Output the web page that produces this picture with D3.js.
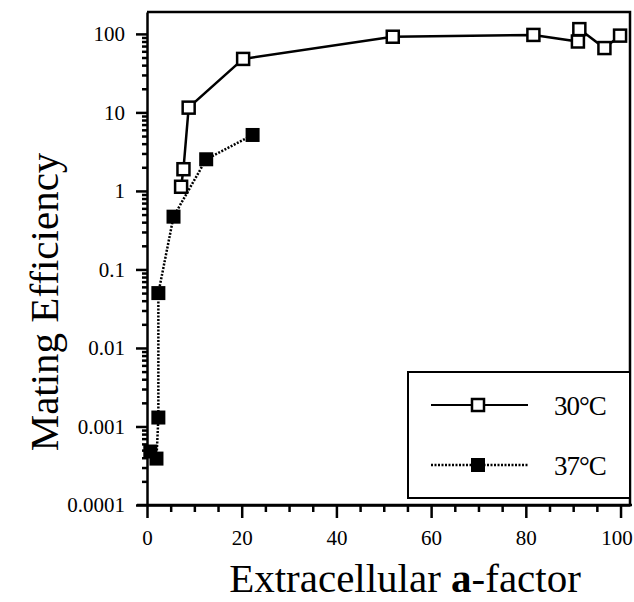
<!DOCTYPE html>
<html>
<head>
<meta charset="utf-8">
<script src="https://cdn.jsdelivr.net/npm/d3@7"></script>
<style>
  html, body { margin: 0; padding: 0; background: #fff; }
  svg { display: block; }
  svg text { font-family: "Liberation Serif", "Times New Roman", serif; fill: #000; }
</style>
</head>
<body>
<svg id="chart" width="634" height="602"></svg>
<script>
// Data
const series30x = [7.2, 7.7, 8.8, 20.3, 51.9, 81.6, 91.0, 91.3, 96.6, 99.9];
const series30y = [1.13, 1.89, 11.5, 48, 92, 97, 80, 115, 66, 95];
const series37x = [0.7, 2.0, 2.4, 2.4, 5.6, 12.5, 22.3];
const series37y = [0.00048, 0.00039, 0.0013, 0.05, 0.47, 2.53, 5.16];

const xTickValues = [0, 20, 40, 60, 80, 100];
const yTickValues = [0.0001, 0.001, 0.01, 0.1, 1, 10, 100];
const yTickLabels = ['0.0001', '0.001', '0.01', '0.1', '1', '10', '100'];
const legendLabels = ['30°C', '37°C'];

const svg = d3.select('#chart');

// Plot area
const plot = { left: 147, right: 630, top: 12, bottom: 505 };

const x = d3.scaleLinear().domain([0, 102]).range([plot.left, plot.right]);
const y = d3.scaleLog().domain([0.0001, 190]).range([plot.bottom, plot.top]);

// minor ticks
const xMinor = d3.range(0, 101, 5).filter(v => v % 20 !== 0);
const yMinor = [];
yTickValues.slice(0, -1).forEach(d => {
  for (let k = 2; k <= 9; k++) yMinor.push(d * k);
});

// Frame (top and right)
svg.append('path')
  .attr('d', `M${plot.left},${plot.top}H${plot.right}V${plot.bottom}`)
  .attr('fill', 'none')
  .attr('stroke', '#000')
  .attr('stroke-width', 2.5);

// x axis
svg.append('g')
  .attr('transform', `translate(0,${plot.bottom})`)
  .call(d3.axisBottom(x).tickValues(xTickValues).tickSize(13).tickPadding(12).tickSizeOuter(0))
  .selectAll('.tick text')
  .attr('dx', d => d === 100 ? -4 : 0);
svg.append('g')
  .attr('transform', `translate(0,${plot.bottom})`)
  .call(d3.axisBottom(x).tickValues(xMinor).tickSize(7).tickFormat('').tickSizeOuter(0))
  .select('.domain').remove();

// y axis
svg.append('g')
  .attr('transform', `translate(${plot.left},0)`)
  .call(d3.axisLeft(y).tickValues(yTickValues).tickSize(11).tickPadding(11)
    .tickFormat((d, i) => yTickLabels[i]).tickSizeOuter(0));
svg.append('g')
  .attr('transform', `translate(${plot.left},0)`)
  .call(d3.axisLeft(y).tickValues(yMinor).tickSize(5).tickFormat('').tickSizeOuter(0))
  .select('.domain').remove();

// extend the x axis line a little past the corner
svg.append('line').attr('x1', plot.left - 10).attr('x2', plot.right + 2)
  .attr('y1', plot.bottom).attr('y2', plot.bottom).attr('stroke', '#000').attr('stroke-width', 2.5);

svg.selectAll('.domain').attr('stroke-width', 2.5);
svg.selectAll('.tick line').attr('stroke-width', 2.5);
svg.selectAll('.tick text')
  .style('font-family', '"Liberation Serif", serif')
  .style('font-size', '21px');

// axis titles
svg.append('text')
  .attr('x', 405)
  .attr('y', 592)
  .attr('text-anchor', 'middle')
  .style('font-size', '41px')
  .html('Extracellular <tspan font-weight="bold">a</tspan>-factor');

svg.append('text')
  .attr('transform', 'translate(58,302) rotate(-90)')
  .attr('text-anchor', 'middle')
  .style('font-size', '41px')
  .text('Mating Efficiency');

// lines
const pts30 = series30x.map((v, i) => [v, series30y[i]]);
const pts37 = series37x.map((v, i) => [v, series37y[i]]);
const line = d3.line().x(d => x(d[0])).y(d => y(d[1]));

svg.append('path').datum(pts37)
  .attr('d', line)
  .attr('fill', 'none')
  .attr('stroke', '#000')
  .attr('stroke-width', 2.5)
  .attr('stroke-dasharray', '2,1.5');

svg.append('path').datum(pts30)
  .attr('d', line)
  .attr('fill', 'none')
  .attr('stroke', '#000')
  .attr('stroke-width', 2.5);

const ms = 14;
svg.selectAll('.m37').data(pts37).enter().append('rect')
  .attr('x', d => x(d[0]) - ms / 2)
  .attr('y', d => y(d[1]) - ms / 2)
  .attr('width', ms).attr('height', ms)
  .attr('fill', '#000');

svg.selectAll('.m30').data(pts30).enter().append('rect')
  .attr('x', d => x(d[0]) - ms / 2 + 1)
  .attr('y', d => y(d[1]) - ms / 2 + 1)
  .attr('width', ms - 2).attr('height', ms - 2)
  .attr('fill', '#fff')
  .attr('stroke', '#000')
  .attr('stroke-width', 2.5);

// legend
const lg = svg.append('g');
lg.append('rect')
  .attr('x', 408).attr('y', 372)
  .attr('width', 222).attr('height', 126)
  .attr('fill', '#fff')
  .attr('stroke', '#000')
  .attr('stroke-width', 2);

const rows = [405, 465];
rows.forEach((ry, i) => {
  lg.append('line')
    .attr('x1', 431).attr('x2', 528)
    .attr('y1', ry).attr('y2', ry)
    .attr('stroke', '#000')
    .attr('stroke-width', i === 0 ? 2 : 2.5)
    .attr('stroke-dasharray', i === 0 ? null : '2,1.5');
  if (i === 0) {
    lg.append('rect')
      .attr('x', 478 - ms / 2 + 1).attr('y', ry - ms / 2 + 1)
      .attr('width', ms - 2).attr('height', ms - 2)
      .attr('fill', '#fff').attr('stroke', '#000').attr('stroke-width', 2.5);
  } else {
    lg.append('rect')
      .attr('x', 478 - ms / 2).attr('y', ry - ms / 2)
      .attr('width', ms).attr('height', ms)
      .attr('fill', '#000');
  }
  lg.append('text')
    .attr('x', 554).attr('y', ry + 10)
    .style('font-size', '27px')
    .attr('letter-spacing', -1)
    .text(legendLabels[i]);
});
</script>
</body>
</html>
